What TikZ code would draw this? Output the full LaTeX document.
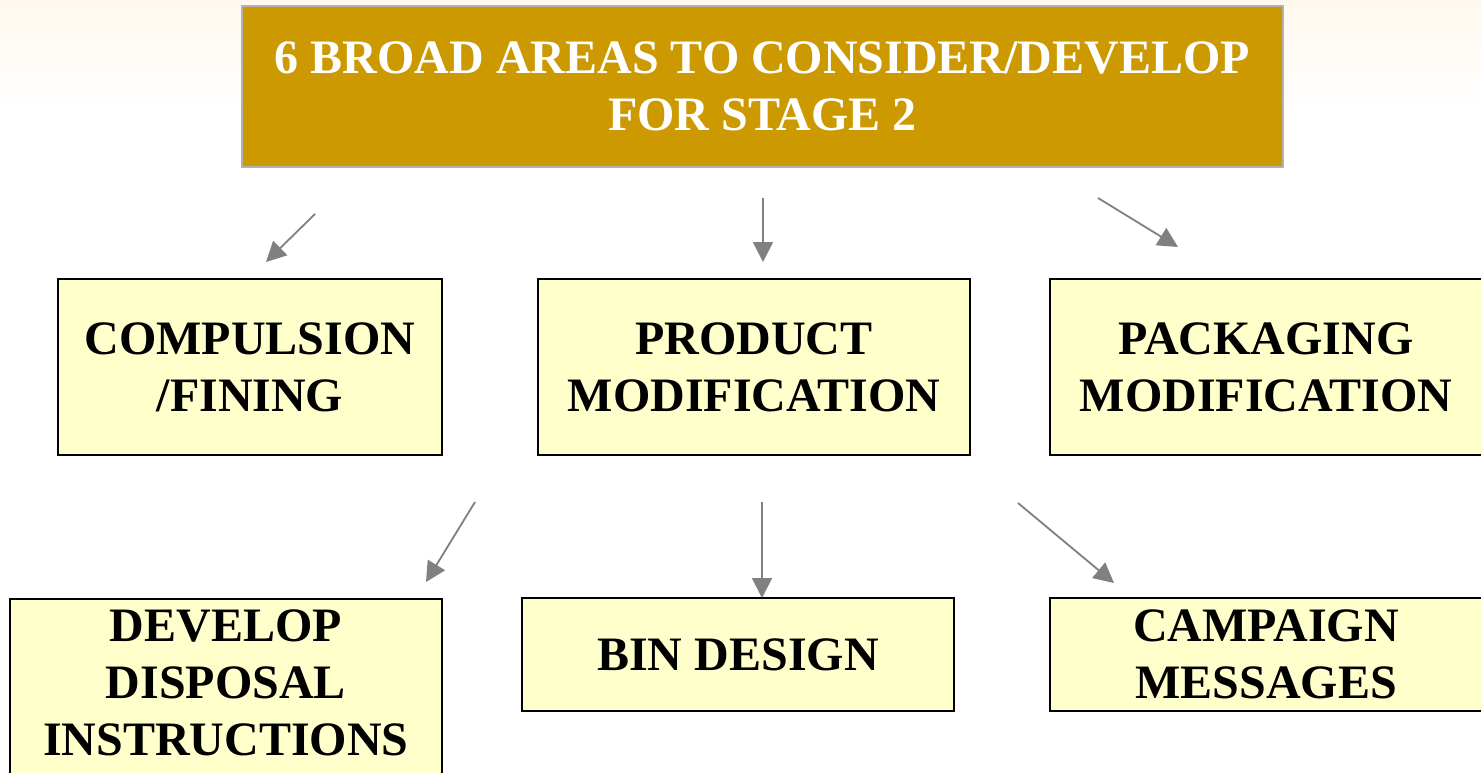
\documentclass[tikz,border=0pt]{standalone}
\usepackage{fontspec}
\setmainfont{Liberation Serif}
\usetikzlibrary{arrows.meta}
\definecolor{gold}{HTML}{CC9900}
\definecolor{titleborder}{HTML}{B2B2B2}
\definecolor{paleyellow}{HTML}{FFFFCC}
\definecolor{arrowgray}{HTML}{808080}
\definecolor{cream}{HTML}{FFF8EE}
\tikzset{
  txt/.style={font=\fontsize{48}{57}\selectfont\bfseries, align=center, inner sep=0pt},
  titlebox/.style={txt, draw=titleborder, line width=2.5pt, fill=gold, text=white},
  areabox/.style={txt, draw=black, line width=2pt, fill=paleyellow, text=black},
  conn/.style={draw=arrowgray, line width=1.8pt, -{Triangle[length=20pt,width=20pt]}}
}
\begin{document}
\begin{tikzpicture}[x=1pt,y=-1pt]
\useasboundingbox (0,0) rectangle (1481,772);
\clip (0,0) rectangle (1481,772);
\fill[white] (0,0) rectangle (1481,772);
\shade[top color=cream, bottom color=white] (0,0) rectangle (1481,110);

\node[titlebox, minimum width=1041pt, minimum height=161pt] (title) at (762.5,86.5)
  {6 BROAD AREAS TO CONSIDER/DEVELOP\\FOR STAGE 2};

\node[areabox, minimum width=384pt, minimum height=176pt] (comp) at (250,367)
  {COMPULSION\\/FINING};
\node[areabox, minimum width=432pt, minimum height=176pt] (prod) at (754,367)
  {PRODUCT\\MODIFICATION};
\node[areabox, minimum width=432pt, minimum height=176pt] (pack) at (1266,367)
  {PACKAGING\\MODIFICATION};

\node[areabox, minimum width=432pt, minimum height=240pt, anchor=north] (dev) at (226,598) {};
\node[txt] (devtext) at (226,683) {DEVELOP\\DISPOSAL\\INSTRUCTIONS};
\node[areabox, minimum width=432pt, minimum height=113pt] (bin) at (738,654.5)
  {BIN DESIGN};
\node[areabox, minimum width=432pt, minimum height=113pt] (camp) at (1266,654.5)
  {CAMPAIGN\\MESSAGES};

\coordinate (a1s) at (315,214); \coordinate (a1e) at (266,262);
\coordinate (a2s) at (763,198); \coordinate (a2e) at (763,262);
\coordinate (a3s) at (1098,198); \coordinate (a3e) at (1178,247);
\coordinate (a4s) at (475,502); \coordinate (a4e) at (426,582);
\coordinate (a5s) at (762,502); \coordinate (a5e) at (762,598);
\coordinate (a6s) at (1018,503); \coordinate (a6e) at (1114,583);

\draw[conn] (a1s) -- (a1e);
\draw[conn] (a2s) -- (a2e);
\draw[conn] (a3s) -- (a3e);
\draw[conn] (a4s) -- (a4e);
\draw[conn] (a5s) -- (a5e);
\draw[conn] (a6s) -- (a6e);
\end{tikzpicture}
\end{document}
